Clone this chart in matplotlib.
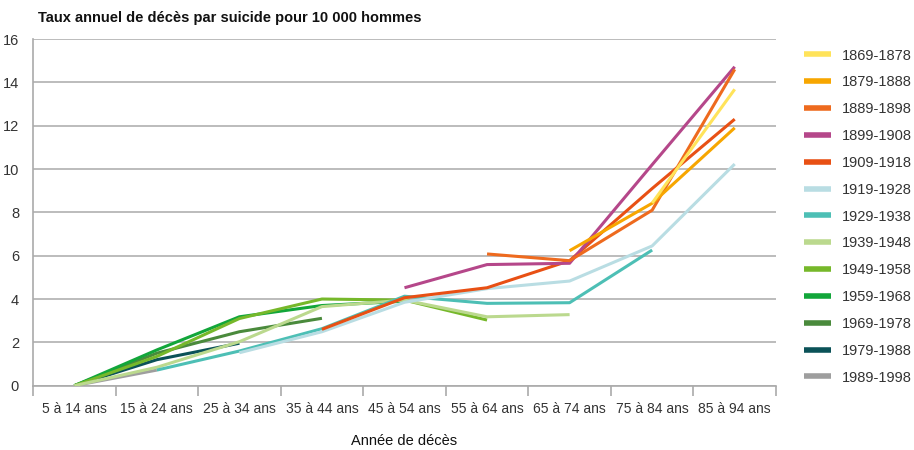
import numpy as np
import matplotlib
matplotlib.use("Agg")
import matplotlib.pyplot as plt

plt.rcParams['font.family'] = ['Liberation Sans', 'DejaVu Sans']

# Tranches d'âge (axe x)
ages = ["5 à 14 ans", "15 à 24 ans", "25 à 34 ans", "35 à 44 ans", "45 à 54 ans",
        "55 à 64 ans", "65 à 74 ans", "75 à 84 ans", "85 à 94 ans"]

# Générations : (indice de la première tranche d'âge, valeurs)
g1869 = (7, [8.43, 13.68])
g1879 = (6, [6.23, 8.42, 11.9])
g1889 = (5, [6.08, 5.77, 8.1, 14.6])
g1899 = (4, [4.52, 5.59, 5.65, 10.2, 14.72])
g1909 = (3, [2.6, 4.06, 4.52, 5.77, 9.1, 12.3])
g1919 = (2, [1.52, 2.49, 3.85, 4.48, 4.83, 6.45, 10.23])
g1929 = (1, [0.72, 1.6, 2.63, 4.13, 3.8, 3.83, 6.26])
g1939 = (0, [0.0, 0.85, 2.03, 3.65, 3.95, 3.18, 3.28])
g1949 = (0, [0.0, 1.35, 3.1, 4.0, 3.95, 3.03])
g1959 = (0, [0.0, 1.65, 3.18, 3.7, 3.9])
g1969 = (0, [0.0, 1.5, 2.49, 3.11])
g1979 = (0, [0.0, 1.2, 1.96])
g1989 = (0, [0.0, 0.72])

generations = ["1869-1878", "1879-1888", "1889-1898", "1899-1908", "1909-1918",
               "1919-1928", "1929-1938", "1939-1948", "1949-1958", "1959-1968",
               "1969-1978", "1979-1988", "1989-1998"]
series = [g1869, g1879, g1889, g1899, g1909, g1919, g1929, g1939, g1949,
          g1959, g1969, g1979, g1989]
colors = ["#FFE35A", "#F7A600", "#EE6A1E", "#B5478A", "#E85014", "#B9DDE3",
          "#4DBFB5", "#BBD98E", "#76B82A", "#12A63A", "#4A8A3C", "#0B5258",
          "#9E9E9E"]

fig = plt.figure(figsize=(9.14, 4.5), dpi=100)
ax = fig.add_axes([0.0361, 0.1429, 0.8129, 0.7704])

# On trace d'abord les générations récentes pour que les anciennes soient au-dessus
for i in range(len(series) - 1, -1, -1):
    start, vals = series[i]
    x = np.arange(start, start + len(vals))
    ax.plot(x, vals, color=colors[i], lw=2.2, label=generations[i],
            solid_capstyle='butt', zorder=3 + (len(series) - i) * 0.01)

ax.set_xlim(-0.5, 8.5)
ax.set_ylim(0, 16)
ax.set_yticks(np.arange(0, 17, 2))
ax.set_xticks(np.arange(len(ages)))
ax.set_xticklabels(ages)
ax.set_xticks(np.arange(-0.5, 9, 1), minor=True)
ax.tick_params(axis='x', which='major', length=0, pad=12, labelsize=10, colors='#333333')
ax.tick_params(axis='x', which='minor', length=7, width=1.2, color='#aaaaaa')
ax.tick_params(axis='y', length=0, pad=10, labelsize=10.5, colors='#333333')

ax.grid(axis='y', color='#b0b0b0', lw=1.2)
ax.set_axisbelow(True)
for s in ['top', 'right']:
    ax.spines[s].set_visible(False)
for s in ['left', 'bottom']:
    ax.spines[s].set_color('#aaaaaa')
    ax.spines[s].set_linewidth(1.2)

ax.set_xlabel("Année de décès", fontsize=10.5, color='#111111', labelpad=13)
fig.text(38 / 914, 1 - 18 / 450, "Taux annuel de décès par suicide pour 10 000 hommes",
         fontsize=10.5, fontweight='bold', color='#111111', va='center', ha='left')

handles, labels = ax.get_legend_handles_labels()
order = list(range(len(handles) - 1, -1, -1))
leg = fig.legend([handles[k] for k in order], [labels[k] for k in order],
                 loc='upper left', bbox_to_anchor=(0.873, 0.905), frameon=False,
                 fontsize=10.5, labelspacing=0.88, handlelength=1.85,
                 handletextpad=0.75, borderaxespad=0)
for line in leg.get_lines():
    line.set_linewidth(4)
for t in leg.get_texts():
    t.set_color('#333333')

fig.savefig("out.png", dpi=100)
